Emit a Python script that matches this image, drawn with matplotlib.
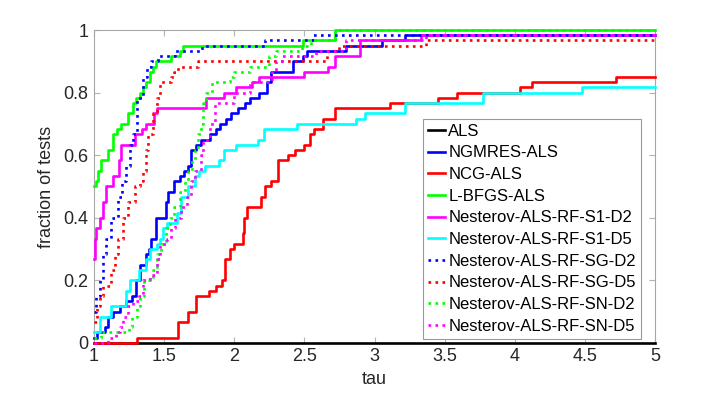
import matplotlib
matplotlib.use("Agg")
import matplotlib.pyplot as plt

n_tests = 60
tau_max = 5.0

# step breakpoints (tau) and number of tests solved (out of n_tests)
als_tau = [1.0]
als_cnt = [0]

ngmres_tau = [1.0, 1.02, 1.08, 1.10, 1.135, 1.185, 1.23, 1.27, 1.30, 1.33, 1.37, 1.39, 1.41, 1.44,
              1.51, 1.53, 1.57, 1.61, 1.64, 1.67, 1.69, 1.73, 1.76, 1.83, 1.87, 1.90, 1.94, 1.98,
              2.03, 2.08, 2.11, 2.18, 2.23, 2.26, 2.42, 2.49, 2.52, 2.80, 3.05, 3.22]
ngmres_cnt = [1, 2, 3, 5, 6, 7, 8, 9, 12, 15, 17, 18, 20, 24,
              27, 29, 31, 32, 33, 34, 37, 38, 39, 40, 41, 42, 43, 44,
              45, 46, 47, 48, 50, 52, 54, 55, 56, 57, 58, 59]

ncg_tau = [1.0, 1.31, 1.6, 1.67, 1.73, 1.82, 1.87, 1.91, 1.935, 1.97, 2.0, 2.06, 2.07, 2.09,
           2.19, 2.22, 2.26, 2.31, 2.38, 2.43, 2.50, 2.54, 2.57, 2.63, 2.72, 3.11, 3.45, 3.59,
           4.04, 4.12, 4.72]
ncg_cnt = [0, 1, 4, 6, 9, 10, 11, 12, 16, 18, 19, 21, 24, 26,
           28, 30, 31, 35, 36, 37, 38, 40, 41, 43, 45, 46, 47, 48,
           49, 50, 51]

lbfgs_tau = [1.0, 1.014, 1.029, 1.05, 1.10, 1.135, 1.165, 1.19, 1.24, 1.28, 1.30, 1.33, 1.35,
             1.37, 1.40, 1.42, 1.44, 1.55, 1.61, 1.635, 2.49, 2.72]
lbfgs_cnt = [30, 31, 33, 35, 37, 40, 41, 42, 44, 46, 47, 48, 49,
             50, 52, 53, 54, 55, 56, 57, 58, 60]

s1d2_tau = [1.0, 1.005, 1.015, 1.04, 1.064, 1.088, 1.135, 1.18, 1.195, 1.29, 1.34, 1.37, 1.43,
            1.45, 1.80, 1.93, 2.01, 2.13, 2.18, 2.50, 2.67, 2.72, 2.90, 3.33]
s1d2_cnt = [16, 20, 22, 24, 27, 30, 32, 35, 38, 40, 41, 42, 44,
            45, 47, 48, 49, 50, 51, 52, 53, 55, 58, 59]

s1d5_tau = [1.0, 1.04, 1.12, 1.23, 1.26, 1.32, 1.37, 1.40, 1.45, 1.47, 1.49, 1.52, 1.59, 1.62,
            1.67, 1.72, 1.75, 1.79, 1.89, 1.93, 2.01, 2.17, 2.21, 2.45, 2.87, 2.93, 3.22, 3.77,
            4.48]
s1d5_cnt = [2, 5, 7, 10, 12, 14, 16, 18, 19, 20, 22, 23, 25, 28,
            30, 32, 33, 34, 35, 37, 38, 39, 41, 42, 43, 44, 46, 48,
            49]

sgd2_tau = [1.0, 1.015, 1.04, 1.065, 1.088, 1.12, 1.17, 1.20, 1.23, 1.255, 1.28, 1.31, 1.35,
            1.375, 1.41, 1.455, 1.58, 1.77, 2.22, 2.56]
sgd2_cnt = [6, 9, 12, 17, 20, 24, 28, 31, 34, 38, 40, 47, 51,
            53, 54, 55, 56, 57, 58, 59]

sgd5_tau = [1.0, 1.02, 1.04, 1.065, 1.12, 1.15, 1.17, 1.21, 1.24, 1.29, 1.33, 1.35, 1.37,
            1.385, 1.42, 1.45, 1.47, 1.55, 1.57, 1.60, 1.74, 2.66, 2.75, 3.37]
sgd5_cnt = [4, 7, 9, 11, 14, 17, 20, 24, 27, 30, 31, 33, 37,
            40, 44, 47, 50, 51, 52, 53, 54, 56, 57, 58]

snd2_tau = [1.0, 1.05, 1.25, 1.27, 1.31, 1.33, 1.36, 1.42, 1.45, 1.48, 1.51, 1.54, 1.57, 1.61,
            1.65, 1.67, 1.70, 1.72, 1.74, 1.76, 1.78, 1.80, 1.84, 1.97, 2.0, 2.11, 2.25, 2.30,
            2.48, 2.55, 2.72]
snd2_cnt = [1, 2, 3, 5, 7, 9, 12, 14, 17, 19, 22, 24, 26, 29,
            31, 33, 35, 37, 40, 42, 46, 48, 50, 51, 52, 53, 55, 56,
            57, 58, 60]

snd5_tau = [1.0, 1.10, 1.16, 1.185, 1.21, 1.245, 1.28, 1.32, 1.35, 1.40, 1.45, 1.47, 1.52,
            1.55, 1.58, 1.62, 1.66, 1.69, 1.72, 1.76, 1.78, 1.83, 1.86, 2.0, 2.11, 2.27, 2.30,
            2.34, 2.58, 2.80, 3.37]
snd5_cnt = [0, 1, 2, 3, 5, 7, 8, 9, 12, 13, 16, 19, 20,
            22, 24, 26, 28, 31, 33, 36, 39, 42, 46, 48, 50, 52, 54,
            55, 56, 58, 59]

labels = ["ALS", "NGMRES-ALS", "NCG-ALS", "L-BFGS-ALS",
          "Nesterov-ALS-RF-S1-D2", "Nesterov-ALS-RF-S1-D5",
          "Nesterov-ALS-RF-SG-D2", "Nesterov-ALS-RF-SG-D5",
          "Nesterov-ALS-RF-SN-D2", "Nesterov-ALS-RF-SN-D5"]

series = [(als_tau, als_cnt), (ngmres_tau, ngmres_cnt), (ncg_tau, ncg_cnt),
          (lbfgs_tau, lbfgs_cnt), (s1d2_tau, s1d2_cnt), (s1d5_tau, s1d5_cnt),
          (sgd2_tau, sgd2_cnt), (sgd5_tau, sgd5_cnt), (snd2_tau, snd2_cnt),
          (snd5_tau, snd5_cnt)]
colors = ["k", "#0000ff", "#ff0000", "#00ff00", "#ff00ff", "#00ffff",
          "#0000ff", "#ff0000", "#00ff00", "#ff00ff"]
styles = ["-", "-", "-", "-", "-", "-", ":", ":", ":", ":"]

plt.rcParams['font.family'] = ['Liberation Sans', 'DejaVu Sans']

fig = plt.figure(figsize=(7.23, 3.95), dpi=100)
ax = fig.add_axes([0.130, 0.132, 0.776, 0.792])

for (t, c), col, ls, lab in zip(series, colors, styles, labels):
    x = list(t) + [tau_max]
    y = [v / n_tests for v in c] + [c[-1] / n_tests]
    ax.step(x, y, where='post', color=col, linestyle=ls, linewidth=1.9,
            label=lab, clip_on=False, zorder=3)

ax.set_xlim(1, 5)
ax.set_ylim(0, 1)
ax.set_xticks([1, 1.5, 2, 2.5, 3, 3.5, 4, 4.5, 5])
ax.set_xticklabels(["1", "1.5", "2", "2.5", "3", "3.5", "4", "4.5", "5"])
ax.set_yticks([0, 0.2, 0.4, 0.6, 0.8, 1])
ax.set_yticklabels(["0", "0.2", "0.4", "0.6", "0.8", "1"])
ax.tick_params(direction='in', length=4, width=0.8, color='0.7',
               top=True, right=True, labelsize=13, labelcolor='#262626', pad=4)
for s in ax.spines.values():
    s.set_color('0.65')
    s.set_linewidth(0.8)

ax.set_xlabel("tau", fontsize=13, color='#262626', labelpad=4)
ax.set_ylabel("fraction of tests", fontsize=13, color='#262626', labelpad=6)

leg = ax.legend(loc='lower right', bbox_to_anchor=(0.975, 0.013), borderaxespad=0,
                fontsize=12, handlelength=1.0, handletextpad=0.2, labelspacing=0.4,
                borderpad=0.3, fancybox=False, framealpha=1, edgecolor='0.6')
leg.get_frame().set_linewidth(0.8)

fig.savefig("out.png", dpi=100)
